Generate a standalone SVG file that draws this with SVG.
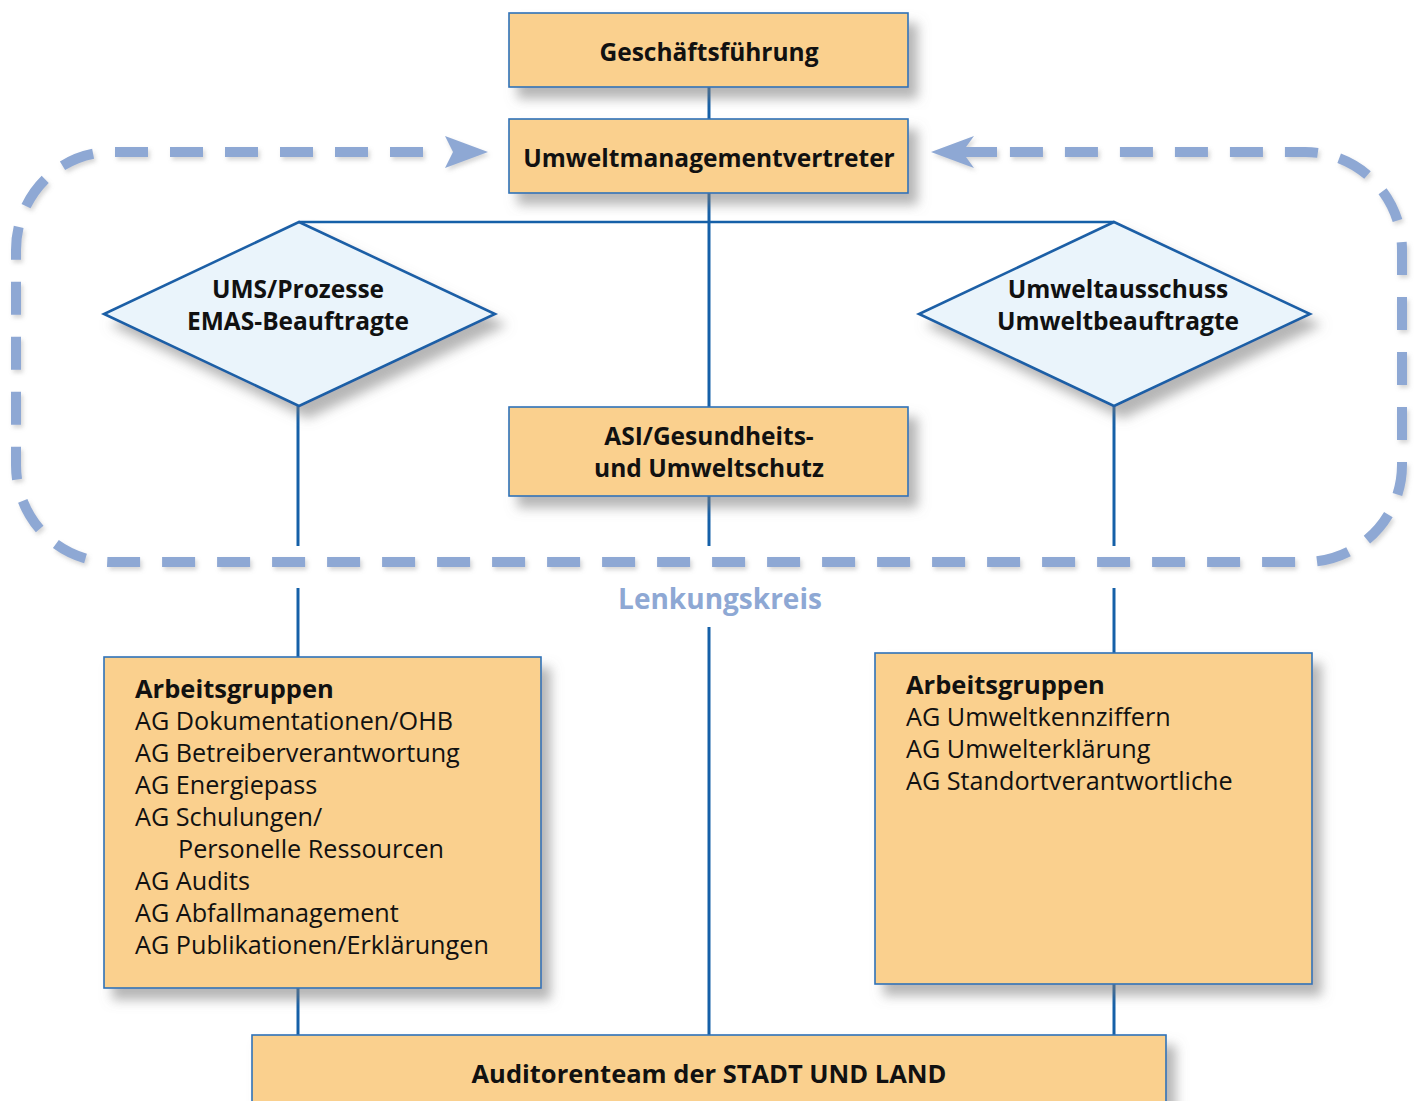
<svg xmlns="http://www.w3.org/2000/svg" width="1416" height="1101" viewBox="0 0 1416 1101">
<defs>
<filter id="sh" x="-10%" y="-10%" width="130%" height="140%">
<feDropShadow dx="9" dy="11" stdDeviation="6" flood-color="#7a7a7a" flood-opacity="0.55"/>
</filter>
<filter id="sh2" x="-5%" y="-5%" width="110%" height="115%">
<feDropShadow dx="2" dy="3" stdDeviation="2" flood-color="#8a8a8a" flood-opacity="0.35"/>
</filter>
<style>
.box{fill:#FAD08E;stroke:#2F72B8;stroke-width:1.6}
.dia{fill:#EAF4FB;stroke:#1B5FA6;stroke-width:2.6}
.con{stroke:#1560A8;stroke-width:3;fill:none}
.loop{stroke:#8EA8D4;stroke-width:10;fill:none;stroke-dasharray:33 22}
.arr{fill:#8EA8D4}
.t{font-family:"Open Sans","Noto Sans",sans-serif;fill:#111}
.b{font-weight:bold;font-size:24.5px;text-anchor:middle}
.r{font-size:25.2px}
.rb{font-size:25.5px;font-weight:bold}
.lk{font-family:"Open Sans","Noto Sans",sans-serif;font-weight:bold;font-size:28px;fill:#8EA8D4;text-anchor:middle}
</style>
</defs>
<rect width="1416" height="1101" fill="#ffffff"/>

<g id="lenkungskreis">
<g filter="url(#sh2)">
<path class="loop" d="M 423 152 L 111 152 A 95 98 0 0 0 16 250 L 16 465 A 95 97 0 0 0 111 562 L 1305 562 A 97 97 0 0 0 1402 465 L 1402 250 A 97 98 0 0 0 1305 152 L 1000 152"/>
<polygon class="arr" points="488,152 445,136 453,152 445,168"/>
<polygon class="arr" points="931,152 974,136 966,147 997,147 997,157 966,157 974,168"/>
</g>
<text class="lk" x="720" y="609">Lenkungskreis</text>
</g>

<g id="connectors">
<line class="con" x1="709" y1="87" x2="709" y2="119"/>
<line class="con" x1="709" y1="193" x2="709" y2="407"/>
<line class="con" x1="299" y1="222" x2="1114" y2="222" style="stroke-width:2.5"/>
<line class="con" x1="298" y1="406" x2="298" y2="546"/>
<line class="con" x1="298" y1="588" x2="298" y2="657"/>
<line class="con" x1="709" y1="496" x2="709" y2="546"/>
<line class="con" x1="709" y1="627" x2="709" y2="1035"/>
<line class="con" x1="1114" y1="406" x2="1114" y2="546"/>
<line class="con" x1="1114" y1="588" x2="1114" y2="653"/>
<line class="con" x1="298" y1="988" x2="298" y2="1035"/>
<line class="con" x1="1114" y1="984" x2="1114" y2="1035"/>
</g>

<g id="geschaeftsfuehrung">
<rect class="box" x="509" y="13" width="399" height="74" filter="url(#sh)"/>
<text class="t b" x="709" y="61">Geschäftsführung</text>
</g>

<g id="umweltmanagementvertreter">
<rect class="box" x="509" y="119" width="399" height="74" filter="url(#sh)"/>
<text class="t b" x="709" y="167">Umweltmanagementvertreter</text>
</g>

<g id="ums-prozesse">
<polygon class="dia" points="299,222 495,314 299,406 104,314" filter="url(#sh)"/>
<text class="t b" x="298" y="298">UMS/Prozesse</text>
<text class="t b" x="298" y="330">EMAS-Beauftragte</text>
</g>

<g id="umweltausschuss">
<polygon class="dia" points="1114,222 1310,314 1114,406 919,314" filter="url(#sh)"/>
<text class="t b" x="1118" y="298">Umweltausschuss</text>
<text class="t b" x="1118" y="330">Umweltbeauftragte</text>
</g>

<g id="asi">
<rect class="box" x="509" y="407" width="399" height="89" filter="url(#sh)"/>
<text class="t b" x="709" y="445">ASI/Gesundheits-</text>
<text class="t b" x="709" y="477">und Umweltschutz</text>
</g>

<g id="arbeitsgruppen-links">
<rect class="box" x="104" y="657" width="437" height="331" filter="url(#sh)"/>
<text class="t rb" x="135" y="698">Arbeitsgruppen</text>
<text class="t r" x="135" y="730">AG Dokumentationen/OHB</text>
<text class="t r" x="135" y="762">AG Betreiberverantwortung</text>
<text class="t r" x="135" y="794">AG Energiepass</text>
<text class="t r" x="135" y="826">AG Schulungen/</text>
<text class="t r" x="178" y="858">Personelle Ressourcen</text>
<text class="t r" x="135" y="890">AG Audits</text>
<text class="t r" x="135" y="922">AG Abfallmanagement</text>
<text class="t r" x="135" y="954">AG Publikationen/Erklärungen</text>
</g>

<g id="arbeitsgruppen-rechts">
<rect class="box" x="875" y="653" width="437" height="331" filter="url(#sh)"/>
<text class="t rb" x="906" y="694">Arbeitsgruppen</text>
<text class="t r" x="906" y="726">AG Umweltkennziffern</text>
<text class="t r" x="906" y="758">AG Umwelterklärung</text>
<text class="t r" x="906" y="790">AG Standortverantwortliche</text>
</g>

<g id="auditorenteam">
<rect class="box" x="252" y="1035" width="914" height="80" filter="url(#sh)"/>
<text class="t b" x="709" y="1083" style="font-size:25.5px">Auditorenteam der STADT UND LAND</text>
</g>
</svg>
